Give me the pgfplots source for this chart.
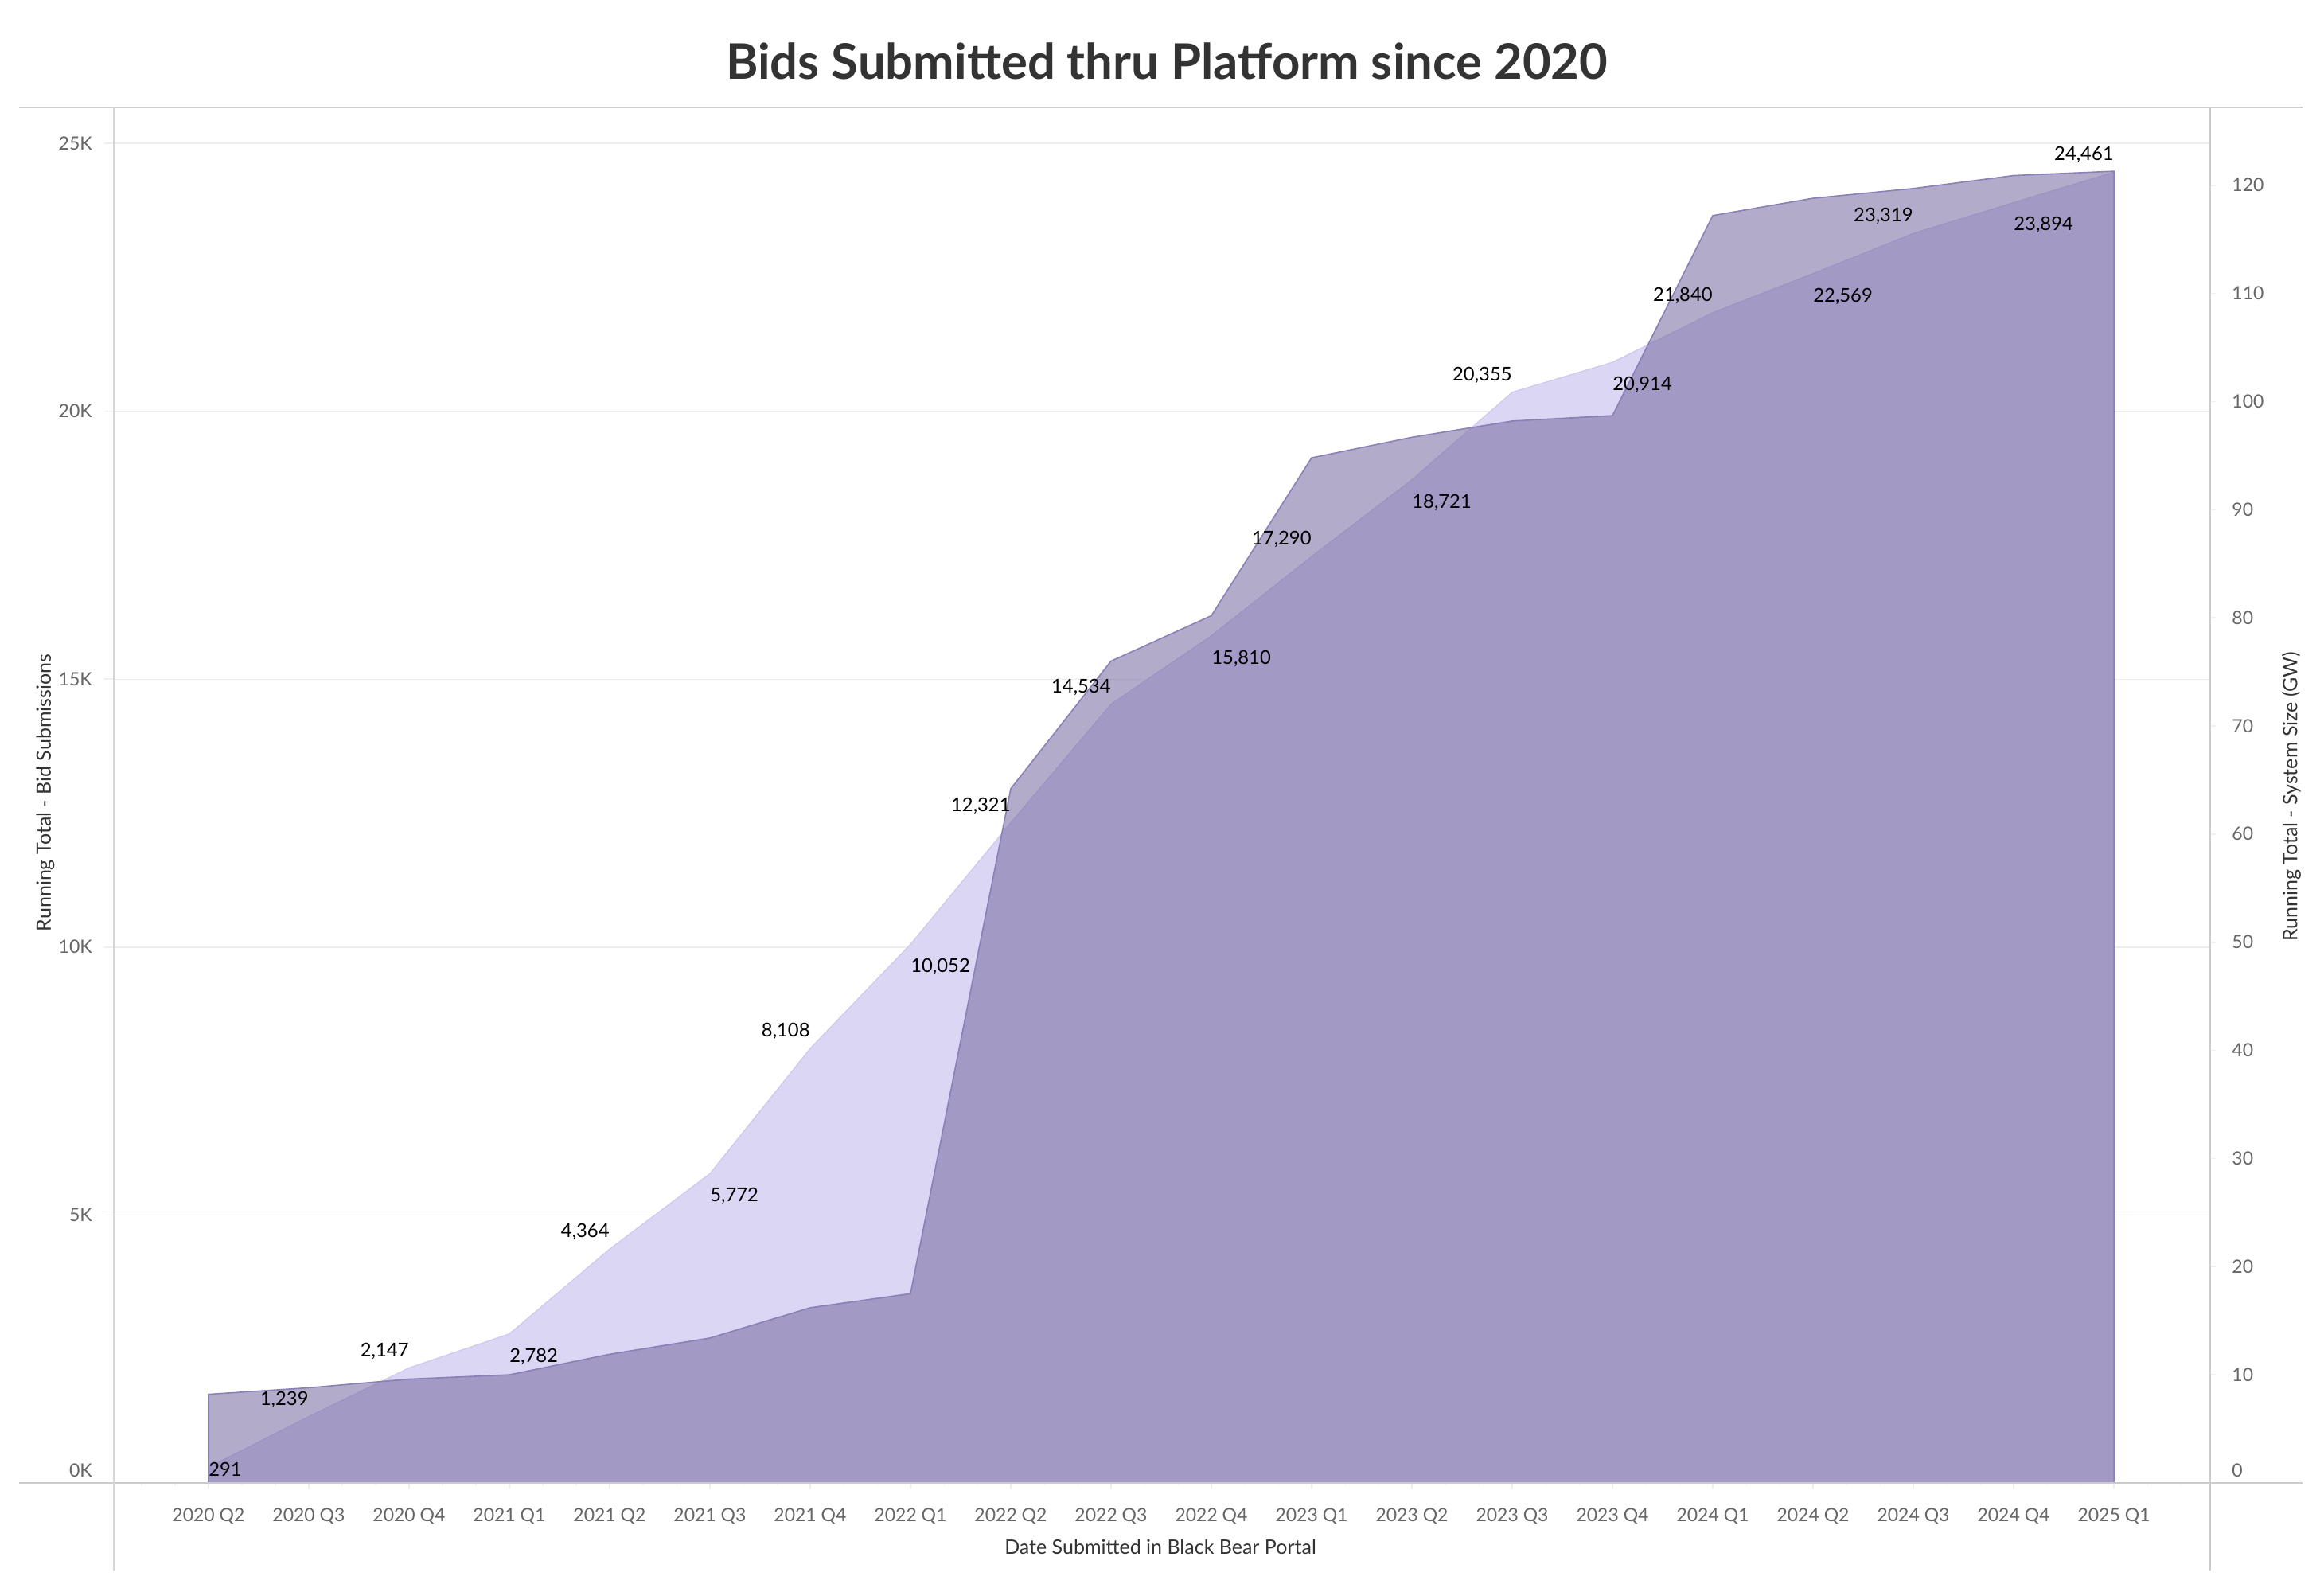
\documentclass[border=0pt]{standalone}
\usepackage{fontspec}
\setmainfont{Lato}
\usepackage{pgfplots}
\usepackage{pgfplotstable}
\pgfplotsset{compat=1.18}
\definecolor{lightc}{HTML}{DAD6F4}
\definecolor{lightline}{HTML}{CDC8EF}
\definecolor{darkc}{RGB}{120,108,162}
\definecolor{darkline}{HTML}{8A80B8}
\definecolor{gridc}{HTML}{EEEEEE}
\definecolor{framec}{HTML}{CCCCCC}
\definecolor{ticklab}{HTML}{666666}
\definecolor{titlec}{HTML}{333333}

\pgfplotstableread{
x bids gw
0 291 8.2
1 1239 8.8
2 2147 9.6
3 2782 10.0
4 4364 11.9
5 5772 13.4
6 8108 16.2
7 10052 17.5
8 12321 64.2
9 14534 76.0
10 15810 80.2
11 17290 94.8
12 18721 96.7
13 20355 98.2
14 20914 98.7
15 21840 117.2
16 22569 118.8
17 23319 119.7
18 23894 120.9
19 24461 121.3
}\datatable

\pgfplotstableread{
x bids lab
1 1239 1,239
2 2147 2,147
4 4364 4,364
6 8108 8,108
8 12321 12,321
9 14534 14,534
11 17290 17,290
13 20355 20,355
15 21840 21,840
17 23319 23,319
19 24461 24,461
}\labA

\pgfplotstableread{
x bids lab
3 2782 2,782
5 5772 5,772
7 10052 10,052
10 15810 15,810
12 18721 18,721
14 20914 20,914
16 22569 22,569
18 23894 23,894
}\labB

\pgfplotstableread{
x bids lab
0 291 291
}\labC

\pgfplotsset{
  common/.style={
    scale only axis, width=1316.5pt, height=864pt,
    at={(71.5pt,68.5pt)}, anchor=south west,
    xmin=-0.944, xmax=19.952,
    scaled y ticks=false, scaled x ticks=false,
    /pgf/number format/assume math mode=true,
    tick label style={font=\fontsize{11.5}{13}\selectfont, text=ticklab},
  },
  lab/.style={
    draw=none, mark=none, nodes near coords, point meta=explicit symbolic,
    every node near coord/.append style={font=\fontsize{11.9}{14}\selectfont, text=black,
      inner sep=0pt, text height=8.5pt, text depth=0pt},
  },
}

\begin{document}
\begin{tikzpicture}[x=1pt,y=1pt]
\useasboundingbox (0,0) rectangle (1460,1000);

% axis 1: grid, light area, x ticks
\begin{axis}[common,
  ymin=0, ymax=25670,
  axis x line*=bottom, axis y line*=left,
  axis line style={draw=none},
  xtick={0,...,19},
  xticklabels={2020 Q2,2020 Q3,2020 Q4,2021 Q1,2021 Q2,2021 Q3,2021 Q4,2022 Q1,2022 Q2,2022 Q3,2022 Q4,2023 Q1,2023 Q2,2023 Q3,2023 Q4,2024 Q1,2024 Q2,2024 Q3,2024 Q4,2025 Q1},
  minor xtick={-0.6667,-0.3333,...,19.7},
  tick align=outside,
  major tick length=3.5pt, minor tick length=1.5pt,
  x tick style={draw=gridc, line width=0.8pt},
  minor x tick style={draw=gridc!70, line width=0.6pt},
  ytick={0,5000,10000,15000,20000,25000},
  yticklabels={},
  y tick style={draw=none},
  ymajorgrids, major grid style={draw=gridc, line width=0.7pt},
  xticklabel style={anchor=north, inner sep=0pt, text height=8pt, text depth=0pt, yshift=-12.5pt},
]
\addplot[fill=lightc, draw=lightline, line width=0.6pt] table[x=x,y=bids]{\datatable} \closedcycle;
\end{axis}

% axis 2: right axis, dark area
\begin{axis}[common,
  ymin=0, ymax=127.2,
  axis x line=none, axis y line*=right,
  axis line style={draw=none},
  ytick={0,10,...,120},
  yticklabels={\raisebox{7.5pt}{0},10,20,30,40,50,60,70,80,90,100,110,120},
  tick align=outside, major tick length=4pt,
  y tick style={draw=gridc, line width=0.8pt},
  yticklabel style={anchor=west, inner sep=0pt, text height=8pt, text depth=0pt, xshift=10pt},
]
\addplot[fill=darkc, fill opacity=0.57, draw=darkline, line width=0.8pt] table[x=x,y=gw]{\datatable} \closedcycle;
\end{axis}

% axis 3: left axis labels, data labels
\begin{axis}[common,
  ymin=0, ymax=25670,
  axis x line=none, axis y line*=left,
  axis line style={draw=none},
  ytick={0,5000,10000,15000,20000,25000},
  yticklabels={\raisebox{7.5pt}{0K},5K,10K,15K,20K,25K},
  tick align=outside, major tick length=6pt,
  y tick style={draw=gridc, line width=0.8pt},
  yticklabel style={anchor=east, inner sep=0pt, text height=8pt, text depth=0pt, xshift=-7.5pt},
]
\addplot[lab, every node near coord/.append style={anchor=south east, yshift=7pt}] table[x=x,y=bids,meta=lab]{\labA};
\addplot[lab, every node near coord/.append style={anchor=north west, yshift=-9pt}] table[x=x,y=bids,meta=lab]{\labB};
\addplot[lab, every node near coord/.append style={anchor=north west, yshift=3pt}] table[x=x,y=bids,meta=lab]{\labC};
\end{axis}

% frame lines
\draw[framec, line width=1.2pt] (12,932.5) -- (1446.5,932.5);
\draw[framec, line width=1.4pt] (12,68.5) -- (1446.5,68.5);
\draw[framec!80, line width=0.6pt] (71.5,13.5) -- (71.5,932.5);
\draw[framec, line width=1.2pt] (1388.5,13.5) -- (1388.5,932.5);

% titles
\node[text=titlec, font=\fontsize{30.8}{36}\selectfont\bfseries, anchor=base] at (733,950) {Bids Submitted thru Platform since 2020};
\node[text=titlec, font=\fontsize{12.5}{15}\selectfont, rotate=90] at (28.5,502) {Running Total - Bid Submissions};
\node[text=titlec, font=\fontsize{12.5}{15}\selectfont, rotate=90] at (1439.5,499.5) {Running Total - System Size (GW)};
\node[text=titlec, font=\fontsize{12.5}{15}\selectfont] at (729,28.5) {Date Submitted in Black Bear Portal};
\end{tikzpicture}
\end{document}
